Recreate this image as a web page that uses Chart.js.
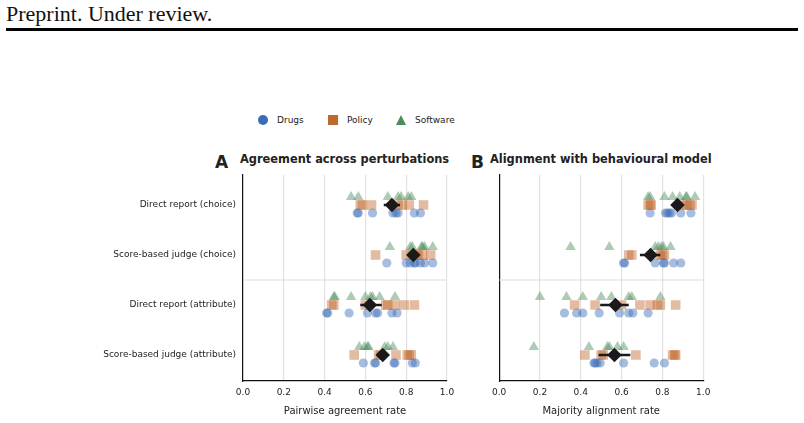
<!DOCTYPE html>
<html>
<head>
<meta charset="utf-8">
<script src="https://cdn.jsdelivr.net/npm/chart.js@4.4.1/dist/chart.umd.min.js"></script>
<style>
  body { margin: 0; width: 804px; height: 423px; background: #fff; position: relative; overflow: hidden; font-family: "DejaVu Sans", sans-serif; color: #222; }
  .header { position: absolute; left: 6px; top: 1px; font-family: "Liberation Serif", serif; font-size: 22px; color: #111; }
  .rule { position: absolute; left: 6px; top: 28px; width: 792px; height: 3px; background: #000; }
  .legend-item { position: absolute; top: 114px; font-size: 9px; line-height: 12px; }
  .mark { position: absolute; }
  .panel-letter { position: absolute; font-weight: bold; font-size: 17px; top: 152px; }
  .panel-title { position: absolute; font-weight: bold; font-size: 11.4px; top: 152px; white-space: nowrap; }
  canvas { position: absolute; }
</style>
</head>
<body>
<div class="header">Preprint. Under review.</div>
<div class="rule"></div>

<div class="mark" style="left:258px;top:115px;width:10px;height:10px;border-radius:50%;background:#3b6db5"></div>
<div class="legend-item" style="left:277px">Drugs</div>
<div class="mark" style="left:328px;top:115px;width:10px;height:10px;background:#c0692c"></div>
<div class="legend-item" style="left:347px">Policy</div>
<div class="mark" style="left:396px;top:115px;width:0;height:0;border-left:5px solid transparent;border-right:5px solid transparent;border-bottom:10px solid #4b8b5c"></div>
<div class="legend-item" style="left:415px">Software</div>

<div class="panel-letter" style="left:215px">A</div>
<div class="panel-title" style="left:240px">Agreement across perturbations</div>
<div class="panel-letter" style="left:471px">B</div>
<div class="panel-title" style="left:490px">Alignment with behavioural model</div>

<canvas id="panelA" width="430" height="265" style="left:40px;top:155px"></canvas>
<canvas id="panelB" width="230" height="265" style="left:489px;top:155px"></canvas>

<script>
const methods = [
  "Direct report (choice)",
  "Score-based judge (choice)",
  "Direct report (attribute)",
  "Score-based judge (attribute)",
];
const xTicks = [0, 0.2, 0.4, 0.6, 0.8, 1.0];

// Panel A: pairwise agreement rate, one list per method row
const agreeDrugs = [
  [0.56, 0.565, 0.635, 0.735, 0.75, 0.76, 0.84, 0.87],
  [0.705, 0.80, 0.82, 0.84, 0.845, 0.87, 0.89, 0.93],
  [0.41, 0.415, 0.52, 0.61, 0.65, 0.66, 0.73, 0.755],
  [0.59, 0.645, 0.65, 0.74, 0.745, 0.83, 0.845],
];
const agreePolicy = [
  [0.575, 0.585, 0.63, 0.76, 0.78, 0.815, 0.885],
  [0.65, 0.80, 0.83, 0.85, 0.86, 0.88, 0.92],
  [0.435, 0.445, 0.60, 0.70, 0.71, 0.745, 0.79, 0.84],
  [0.545, 0.665, 0.675, 0.75, 0.805, 0.815, 0.825],
];
const agreeSoftware = [
  [0.53, 0.565, 0.71, 0.76, 0.775, 0.81, 0.825],
  [0.72, 0.82, 0.83, 0.875, 0.88, 0.89, 0.93],
  [0.445, 0.45, 0.53, 0.60, 0.625, 0.635, 0.67, 0.745],
  [0.57, 0.595, 0.61, 0.615, 0.695, 0.71, 0.735],
];
const agreeMean = [0.73, 0.835, 0.622, 0.685];
const agreeLow = [0.69, 0.815, 0.575, 0.665];
const agreeHigh = [0.77, 0.855, 0.68, 0.705];

// Panel B: majority alignment rate
const alignDrugs = [
  [0.74, 0.815, 0.825, 0.835, 0.845, 0.89, 0.94],
  [0.61, 0.615, 0.765, 0.805, 0.81, 0.855, 0.89],
  [0.32, 0.38, 0.41, 0.49, 0.59, 0.635, 0.655, 0.73],
  [0.465, 0.47, 0.48, 0.495, 0.61, 0.76, 0.81],
];
const alignPolicy = [
  [0.73, 0.74, 0.745, 0.90, 0.92, 0.935, 0.945],
  [0.635, 0.65, 0.79, 0.80, 0.81],
  [0.37, 0.47, 0.60, 0.69, 0.74, 0.775, 0.79, 0.865],
  [0.42, 0.50, 0.51, 0.67, 0.85, 0.86, 0.865],
];
const alignSoftware = [
  [0.73, 0.74, 0.81, 0.85, 0.885, 0.915, 0.92, 0.96],
  [0.35, 0.54, 0.765, 0.78, 0.795, 0.805, 0.84],
  [0.20, 0.33, 0.41, 0.50, 0.55, 0.635, 0.65, 0.79],
  [0.17, 0.44, 0.53, 0.54, 0.58, 0.61],
];
const alignMean = [0.874, 0.742, 0.57, 0.565];
const alignLow = [0.855, 0.69, 0.495, 0.487];
const alignHigh = [0.895, 0.79, 0.635, 0.643];

const domains = [
  { label: "Drugs", rgb: "59, 109, 181", style: "circle", radius: 4.6, shift: 0.16 },
  { label: "Policy", rgb: "192, 105, 44", style: "rect", radius: 6.8, shift: 0 },
  { label: "Software", rgb: "75, 139, 92", style: "triangle", radius: 6, shift: -0.16 },
];

const separator = {
  id: "separator",
  beforeDatasetsDraw(chart) {
    const { ctx, chartArea, scales } = chart;
    const y = scales.y.getPixelForValue(1.5);
    ctx.save();
    ctx.strokeStyle = "#dcdcdc";
    ctx.lineWidth = 1.2;
    ctx.beginPath();
    ctx.moveTo(chartArea.left, y);
    ctx.lineTo(chartArea.right, y);
    ctx.stroke();
    ctx.restore();
  },
};

function rowPoints(rows, shift) {
  return rows.flatMap((vals, i) => vals.map((x) => ({ x, y: i + shift })));
}

// box = plot area of the panel on the page: left, top, right, bottom
function createPanel(canvas, series, mean, low, high, xTitle, showLabels, yWidth, box) {
  const datasets = [];
  domains.forEach((d, k) => {
    datasets.push({
      label: d.label,
      data: rowPoints(series[k], d.shift),
      pointStyle: d.style,
      pointRadius: d.radius,
      backgroundColor: `rgba(${d.rgb}, 0.45)`,
      borderWidth: 0,
      order: 3 + k,
    });
  });
  mean.forEach((m, i) => {
    datasets.push({
      data: [{ x: low[i], y: i }, { x: high[i], y: i }],
      showLine: true,
      borderColor: "#1a1a1a",
      borderWidth: 2.5,
      pointRadius: 0,
      order: 1,
    });
  });
  datasets.push({
    data: mean.map((x, i) => ({ x, y: i })),
    pointStyle: "rectRot",
    pointRadius: 7.3,
    backgroundColor: "#1a1a1a",
    borderWidth: 0,
    order: 0,
  });

  const chart = new Chart(canvas.getContext("2d"), {
    type: "scatter",
    data: { datasets },
    plugins: [separator],
    options: {
      animation: false,
      responsive: false,
      maintainAspectRatio: false,
      layout: { padding: { top: 20, right: 16, left: 0, bottom: 0 } },
      plugins: { legend: { display: false }, tooltip: { enabled: false } },
      scales: {
        x: {
          type: "linear",
          min: 0,
          max: 1,
          afterBuildTicks: (s) => { s.ticks = xTicks.map((v) => ({ value: v })); },
          afterFit: (s) => { s.height = 39; },
          ticks: { callback: (v) => Number(v).toFixed(1), font: { size: 9, family: "DejaVu Sans" }, color: "#222", padding: 6, maxRotation: 0 },
          grid: { color: "#e2e2e2", lineWidth: 1.2, drawTicks: false },
          border: { color: "#111", width: 1.2 },
          title: { display: true, text: xTitle, font: { size: 10, family: "DejaVu Sans" }, color: "#222", padding: { top: 0, bottom: 3 } },
        },
        y: {
          type: "linear",
          reverse: true,
          min: -0.6,
          max: 3.52,
          afterBuildTicks: (s) => { s.ticks = methods.map((_, i) => ({ value: i })); },
          afterFit: (s) => { s.width = yWidth; },
          ticks: { display: showLabels, callback: (v) => methods[v], font: { size: 9, family: "DejaVu Sans" }, color: "#222", padding: 7, autoSkip: false },
          grid: { display: false, drawTicks: false },
          border: { color: "#111", width: 1.2 },
        },
      },
    },
  });

  // fit the canvas so the plot area lands where the reference has it
  const area = chart.chartArea;
  const w = canvas.width + (box[2] - box[0]) - (area.right - area.left);
  const h = canvas.height + (box[3] - box[1]) - (area.bottom - area.top);
  chart.resize(w, h);
  const a2 = chart.chartArea;
  canvas.style.left = (box[0] - a2.left) + "px";
  canvas.style.top = (box[1] - a2.top) + "px";
  return chart;
}

createPanel(document.getElementById("panelA"), [agreeDrugs, agreePolicy, agreeSoftware],
  agreeMean, agreeLow, agreeHigh, "Pairwise agreement rate", true, 203, [243, 175, 447, 381]);
createPanel(document.getElementById("panelB"), [alignDrugs, alignPolicy, alignSoftware],
  alignMean, alignLow, alignHigh, "Majority alignment rate", false, 10, [499, 175, 703, 381]);
</script>
</body>
</html>
